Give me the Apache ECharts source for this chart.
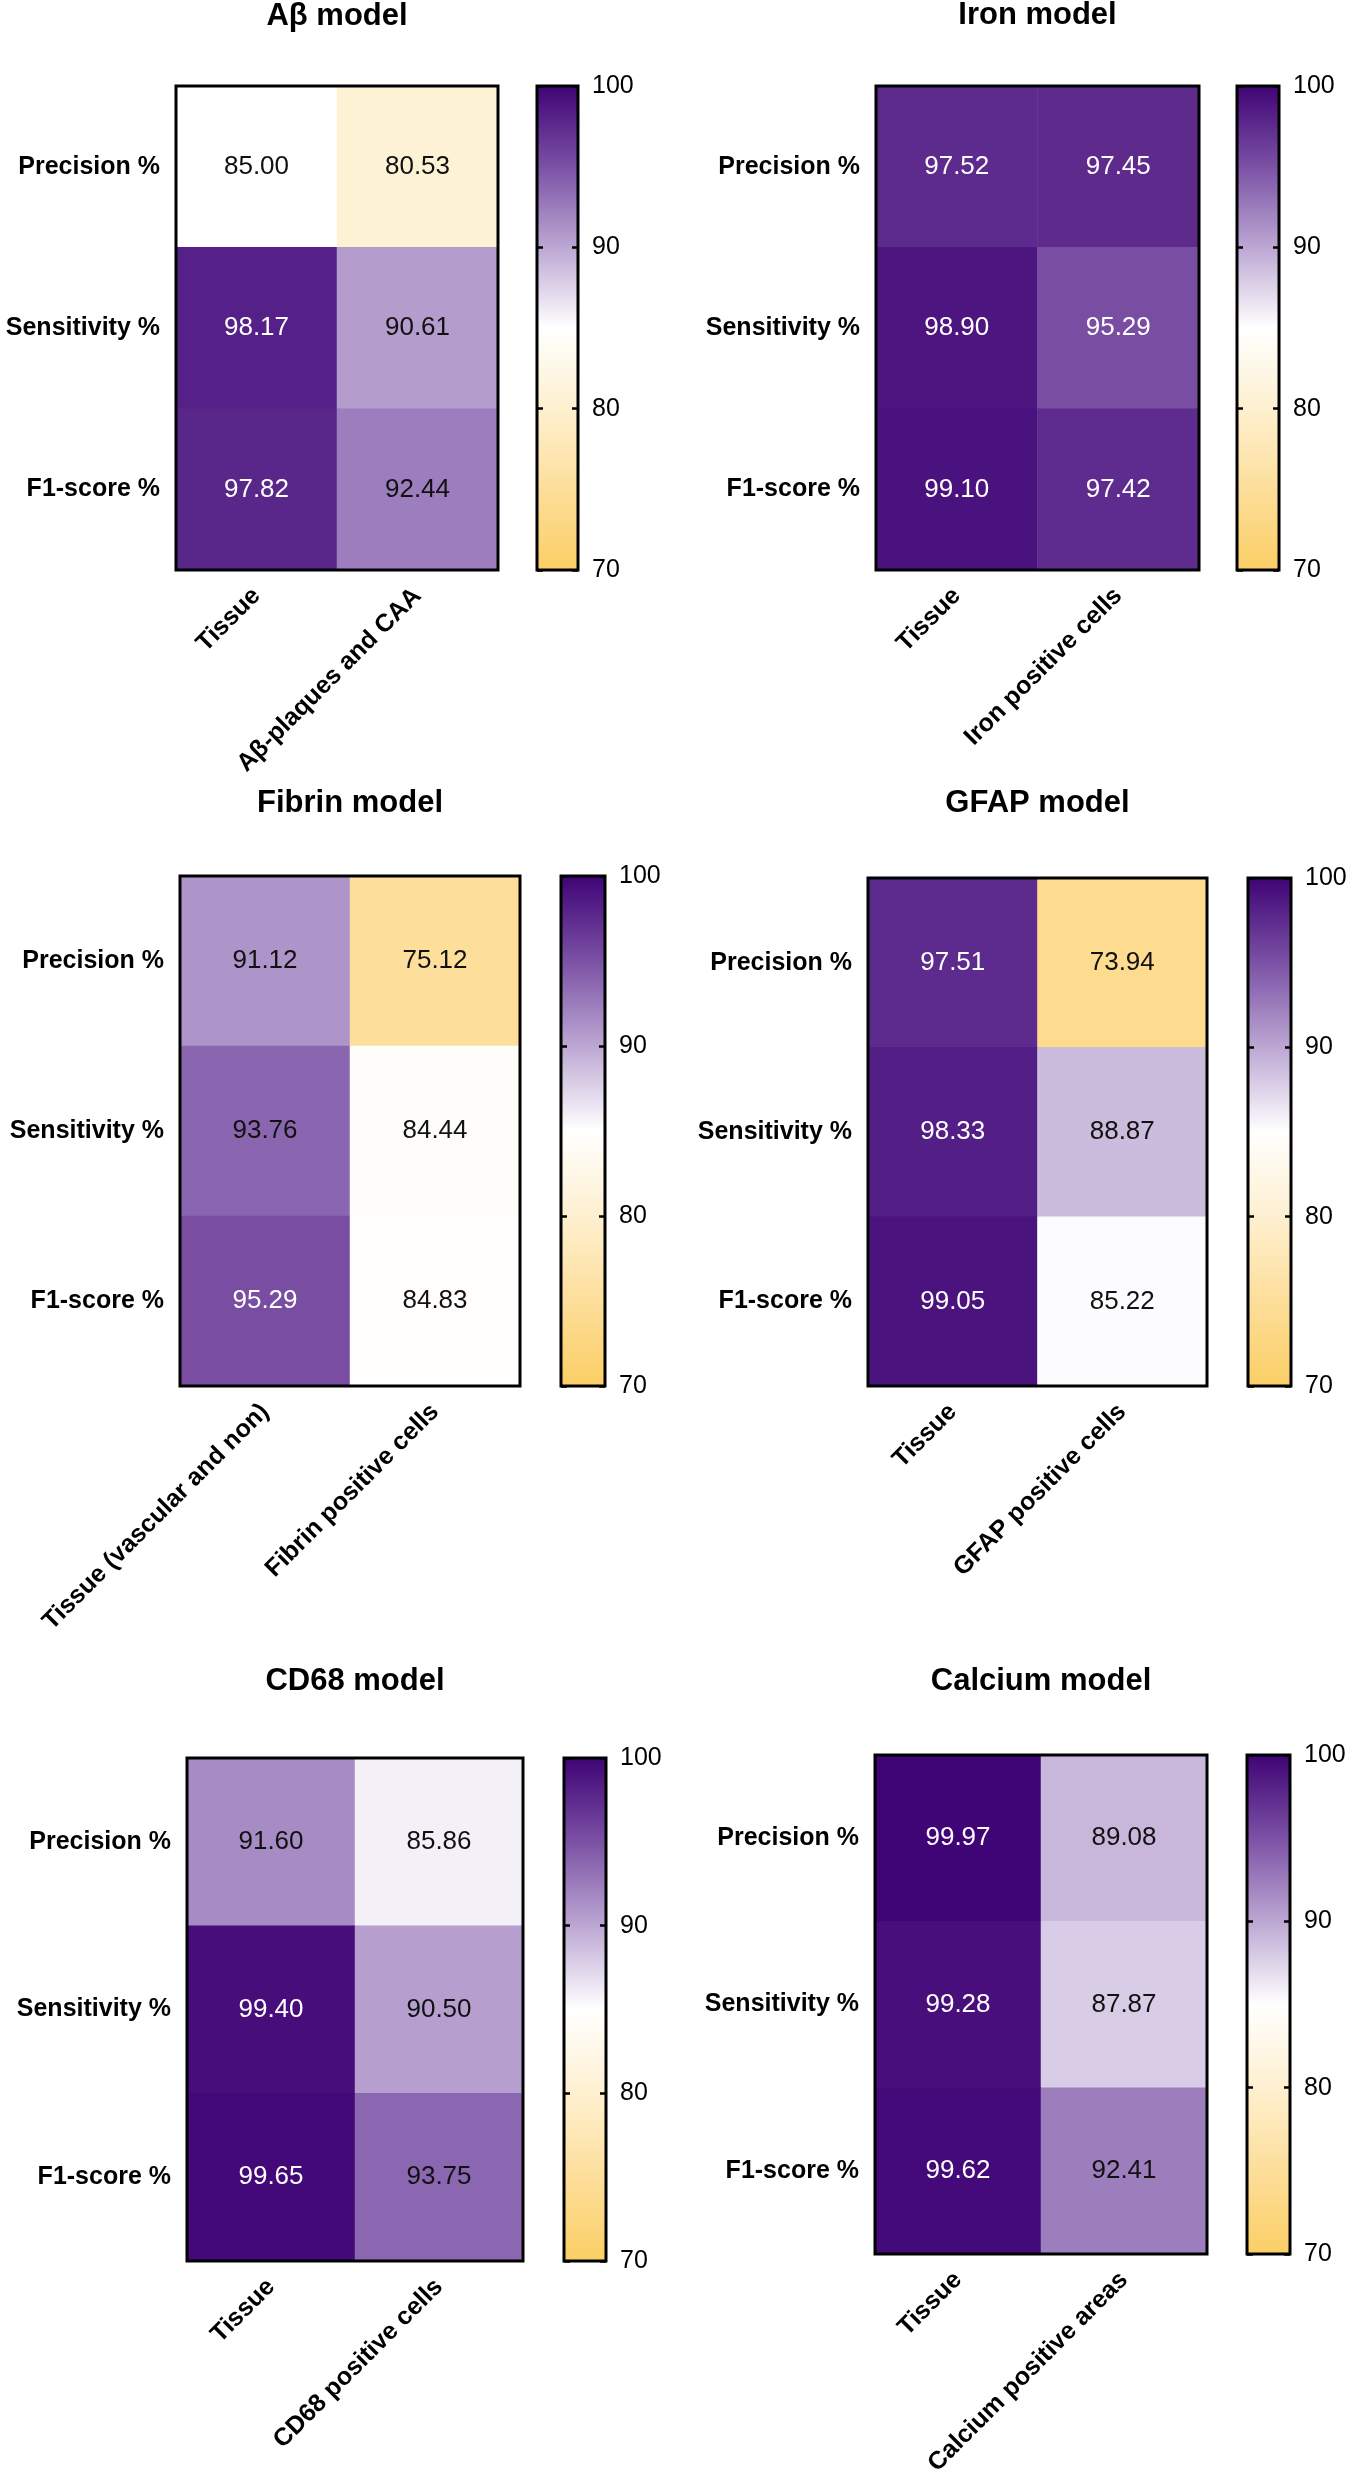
<!DOCTYPE html>
<html><head><meta charset="utf-8">
<script src="https://cdn.jsdelivr.net/npm/echarts@6/dist/echarts.min.js"></script>
<style>html,body{margin:0;padding:0;background:#fff}#c{width:1356px;height:2480px}</style>
</head><body><div id="c"></div>
<script>
// ---------------- data ----------------
const rowLabels = ['Precision %', 'Sensitivity %', 'F1-score %'];

const abTitle = 'Aβ model';
const abCols = ['Tissue', 'Aβ-plaques and CAA'];
const abVals = [[85.00, 80.53], [98.17, 90.61], [97.82, 92.44]];

const ironTitle = 'Iron model';
const ironCols = ['Tissue', 'Iron positive cells'];
const ironVals = [[97.52, 97.45], [98.90, 95.29], [99.10, 97.42]];

const fibrinTitle = 'Fibrin model';
const fibrinCols = ['Tissue (vascular and non)', 'Fibrin positive cells'];
const fibrinVals = [[91.12, 75.12], [93.76, 84.44], [95.29, 84.83]];

const gfapTitle = 'GFAP model';
const gfapCols = ['Tissue', 'GFAP positive cells'];
const gfapVals = [[97.51, 73.94], [98.33, 88.87], [99.05, 85.22]];

const cd68Title = 'CD68 model';
const cd68Cols = ['Tissue', 'CD68 positive cells'];
const cd68Vals = [[91.60, 85.86], [99.40, 90.50], [99.65, 93.75]];

const calciumTitle = 'Calcium model';
const calciumCols = ['Tissue', 'Calcium positive areas'];
const calciumVals = [[99.97, 89.08], [99.28, 87.87], [99.62, 92.41]];

const colorbarTicks = [70, 80, 90, 100];
const scaleColors = ['#FBCF66', '#FDDE9A', '#FEF0D0', '#FFFFFF', '#BCA7D3', '#7B51A5', '#3F0475'];

// ---------------- layout ----------------
const FONT = '"Liberation Sans", Arial, Helvetica, sans-serif';
const panels = [
  { title: abTitle, cols: abCols, vals: abVals, box: [176, 86, 322, 484], bar: [537, 41], ty: 19 },
  { title: ironTitle, cols: ironCols, vals: ironVals, box: [876, 86, 323, 484], bar: [1237, 42], ty: 18 },
  { title: fibrinTitle, cols: fibrinCols, vals: fibrinVals, box: [180, 876, 340, 510], bar: [561, 44], ty: 806 },
  { title: gfapTitle, cols: gfapCols, vals: gfapVals, box: [868, 878, 339, 508], bar: [1248, 43], ty: 806 },
  { title: cd68Title, cols: cd68Cols, vals: cd68Vals, box: [187, 1758, 336, 503], bar: [564, 42], ty: 1684 },
  { title: calciumTitle, cols: calciumCols, vals: calciumVals, box: [875, 1755, 332, 499], bar: [1247, 43], ty: 1684 }
];

const ctx = document.createElement('canvas').getContext('2d');
function textWidth(t, font) { ctx.font = font; return ctx.measureText(t).width; }

const chart = echarts.init(document.getElementById('c'), null, { renderer: 'canvas' });

const grid = [], xAxis = [], yAxis = [], series = [], title = [];
const heatIdx = [];
const cbMin = colorbarTicks[0], cbMax = colorbarTicks[colorbarTicks.length - 1];
const cbInterval = colorbarTicks[1] - colorbarTicks[0];

panels.forEach((p, i) => {
  const [l, t, w, h] = p.box;
  // heatmap grid
  grid.push({ left: l, top: t, width: w, height: h, show: true, borderColor: '#000', borderWidth: 3,
              backgroundColor: 'transparent', z: 10 });
  // colorbar grid
  grid.push({ left: p.bar[0], top: t, width: p.bar[1], height: h, show: true, borderColor: '#000', borderWidth: 3,
              backgroundColor: 'transparent', z: 10 });

  const gH = i * 2, gC = i * 2 + 1;
  xAxis.push({
    type: 'category', gridIndex: gH, data: p.cols, position: 'bottom',
    axisLine: { show: false }, axisTick: { show: false }, splitLine: { show: false },
    axisLabel: { rotate: 45, margin: 22, fontSize: 25, fontWeight: 'bold', color: '#000', fontFamily: FONT, interval: 0 }
  });
  xAxis.push({
    type: 'category', gridIndex: gC, data: [''],
    axisLine: { show: false }, axisTick: { show: false }, axisLabel: { show: false }, splitLine: { show: false }
  });
  const yH = yAxis.length;
  yAxis.push({
    type: 'category', gridIndex: gH, data: rowLabels, inverse: true,
    axisLine: { show: false }, axisTick: { show: false }, splitLine: { show: false },
    axisLabel: { margin: 16, fontSize: 25, fontWeight: 'bold', color: '#000', fontFamily: FONT }
  });
  const yR = yAxis.length;
  yAxis.push({
    type: 'value', gridIndex: gC, position: 'right', min: cbMin, max: cbMax, interval: cbInterval, z: 12,
    axisLine: { show: false }, splitLine: { show: false },
    axisTick: { show: true, inside: true, length: 6, lineStyle: { color: '#000', width: 2.5 } },
    axisLabel: { margin: 14, fontSize: 25, color: '#000', fontFamily: FONT }
  });
  yAxis.push({
    type: 'value', gridIndex: gC, position: 'left', min: cbMin, max: cbMax, interval: cbInterval, z: 12,
    axisLine: { show: false }, splitLine: { show: false },
    axisTick: { show: true, inside: true, length: 6, lineStyle: { color: '#000', width: 2.5 } },
    axisLabel: { show: false }
  });

  // heatmap data
  const data = [];
  p.vals.forEach((row, r) => row.forEach((v, c) => {
    data.push({ value: [c, r, v], label: { color: v >= 94.5 ? '#fff' : '#111' } });
  }));
  heatIdx.push(series.length);
  series.push({
    type: 'heatmap', xAxisIndex: gH, yAxisIndex: yH, data: data,
    label: { show: true, fontSize: 26, fontFamily: FONT, formatter: q => q.value[2].toFixed(2) },
    emphasis: { disabled: true }, silent: true
  });
  // colorbar
  series.push({
    type: 'custom', xAxisIndex: gC, yAxisIndex: yR, silent: true,
    data: [[0, cbMin, cbMax]],
    encode: { x: 0, y: [1, 2] },
    renderItem: (params, api) => {
      const p0 = api.coord([0, api.value(1)]);
      const p1 = api.coord([0, api.value(2)]);
      const bw = api.size([1, 0])[0];
      const stops = scaleColors.map((c, k) => ({ offset: k / (scaleColors.length - 1), color: c }));
      return {
        type: 'rect',
        shape: { x: p0[0] - bw / 2, y: p1[1], width: bw, height: p0[1] - p1[1] },
        style: { fill: new echarts.graphic.LinearGradient(0, 1, 0, 0, stops) }
      };
    }
  });

  // title centered over the heatmap box
  const tFont = 'bold 31px ' + FONT;
  const tw = textWidth(p.title, tFont);
  title.push({
    text: p.title, left: l + w / 2 - tw / 2, top: p.ty - 18, padding: 0,
    textStyle: { fontSize: 31, fontWeight: 'bold', color: '#000', fontFamily: FONT }
  });
});

chart.setOption({
  animation: false,
  backgroundColor: '#fff',
  title: title,
  grid: grid,
  xAxis: xAxis,
  yAxis: yAxis,
  visualMap: {
    type: 'continuous', show: false, min: cbMin, max: cbMax, dimension: 2,
    seriesIndex: heatIdx, inRange: { color: scaleColors }
  },
  series: series
});
</script>
</body></html>
